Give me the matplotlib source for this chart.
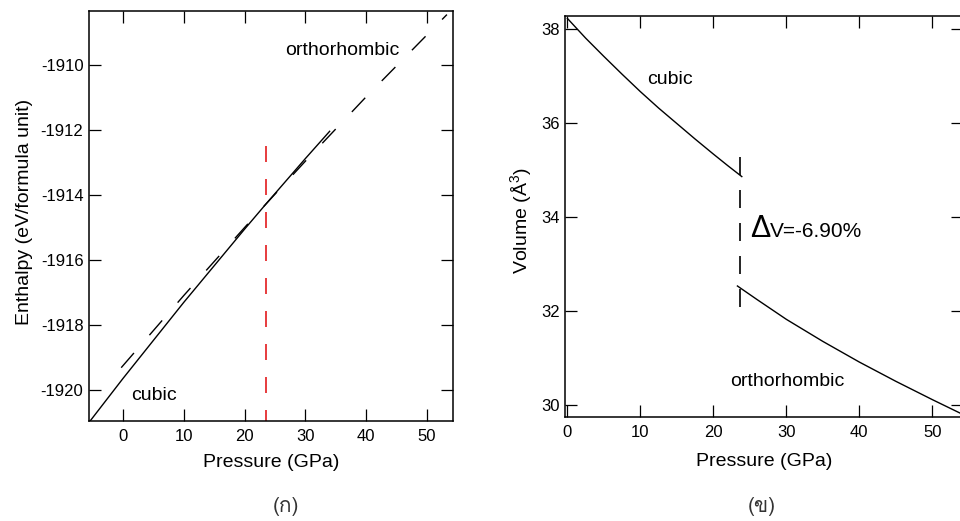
import matplotlib
matplotlib.use("Agg")
import matplotlib.pyplot as plt
from matplotlib import font_manager, ft2font

# enthalpy vs pressure (left panel)
p_cub_h = [-5.5, 0, 10, 20, 23.5, 30, 34]
h_cub = [-1920.97, -1919.64, -1917.30, -1915.05, -1914.28, -1912.88, -1912.04]
p_ort_h = [-0.3, 10, 20, 23.5, 30, 40, 53.3]
h_ort = [-1919.31, -1917.09, -1915.00, -1914.28, -1912.96, -1910.98, -1908.45]

# volume vs pressure (right panel)
p_cub_v = [0, 2.5, 5, 7.5, 10, 12.5, 15, 17.5, 20, 22, 23.9]
v_cub = [38.23, 37.81, 37.42, 37.04, 36.67, 36.32, 35.99, 35.66, 35.34, 35.09, 34.86]
p_ort_v = [23.3, 26, 30, 35, 40, 45, 50, 54.5]
v_ort = [32.53, 32.24, 31.82, 31.35, 30.91, 30.50, 30.11, 29.77]

p_trans = 23.5
h_trans_top = -1912.48
v_jump = [35.28, 31.98]

x_ticks = [0, 10, 20, 30, 40, 50]
h_ticks = [-1920, -1918, -1916, -1914, -1912, -1910]
v_ticks = [30, 32, 34, 36, 38]
captions = ['(ก)', '(ข)']


def find_thai_font():
    for f in font_manager.fontManager.ttflist:
        try:
            if 0x0E01 in ft2font.FT2Font(f.fname).get_charmap():
                return f.name
        except Exception:
            continue
    return None


plt.rcParams['font.family'] = ['Liberation Sans', 'DejaVu Sans']
plt.rcParams['axes.unicode_minus'] = False
plt.rcParams['mathtext.fontset'] = 'custom'
plt.rcParams['mathtext.rm'] = 'Liberation Sans'
plt.rcParams['mathtext.it'] = 'Liberation Sans'


def style_axes(ax):
    for s in ax.spines.values():
        s.set_linewidth(1.1)
    ax.tick_params(direction='in', length=8.5, width=0.9, top=True, right=True,
                   labelsize=12)
    ax.tick_params(axis='x', pad=6)
    ax.tick_params(axis='y', pad=4)


fig = plt.figure(figsize=(9.6, 5.21), dpi=100)
W, H = 960, 521

# left panel
ax1 = fig.add_axes([89 / W, 1 - 421 / H, 364 / W, 410 / H])
ax1.plot(p_cub_h, h_cub, color='black', lw=1.0)
ax1.plot(p_ort_h, h_ort, color='black', lw=1.0, dashes=(14, 17))
ax1.plot([p_trans, p_trans], [h_trans_top, -1921.5], color='#e31a1c', lw=1.2,
         dashes=(9.6, 10.2))
ax1.set_xlim(-5.6, 54.3)
ax1.set_ylim(-1920.95, -1908.34)
ax1.set_xticks(x_ticks)
ax1.set_yticks(h_ticks)
style_axes(ax1)
ax1.set_xlabel('Pressure (GPa)', fontsize=14)
ax1.set_ylabel('Enthalpy (eV/formula unit)', fontsize=14)
ax1.xaxis.set_label_coords(0.5, -0.08)
ax1.yaxis.set_label_coords(-0.153, 0.51)
ax1.text(26.6, -1909.69, 'orthorhombic', fontsize=14)
ax1.text(1.4, -1920.31, 'cubic', fontsize=14)

# right panel
ax2 = fig.add_axes([565 / W, 1 - 417 / H, 398 / W, 401 / H])
ax2.plot(p_cub_v, v_cub, color='black', lw=1.0)
ax2.plot(p_ort_v, v_ort, color='black', lw=1.0)
ax2.plot([p_trans + 0.1, p_trans + 0.1], v_jump, color='black', lw=1.2,
         dashes=(10.8, 9))
ax2.set_xlim(-0.32, 54.2)
ax2.set_ylim(29.74, 38.28)
ax2.set_xticks(x_ticks)
ax2.set_yticks(v_ticks)
style_axes(ax2)
ax2.set_xlabel('Pressure (GPa)', fontsize=14)
ax2.set_ylabel('Volume (Å$^{3}$)', fontsize=14)
ax2.xaxis.set_label_coords(0.5, -0.09)
ax2.yaxis.set_label_coords(-0.078, 0.49)
ax2.text(10.9, 36.84, 'cubic', fontsize=14)
ax2.text(22.3, 30.39, 'orthorhombic', fontsize=14)
ax2.text(25.0, 33.58, 'Δ', fontsize=22)
ax2.text(27.8, 33.58, 'V=-6.90%', fontsize=15)

thai = find_thai_font()
cap_family = [thai, 'DejaVu Sans'] if thai else ['DejaVu Sans']
fig.text(286 / W, 1 - 507 / H, captions[0], ha='center', va='center',
         fontsize=15, family=cap_family, color='#333333')
fig.text(762 / W, 1 - 507 / H, captions[1], ha='center', va='center',
         fontsize=15, family=cap_family, color='#333333')

fig.savefig('out.png', dpi=100)
